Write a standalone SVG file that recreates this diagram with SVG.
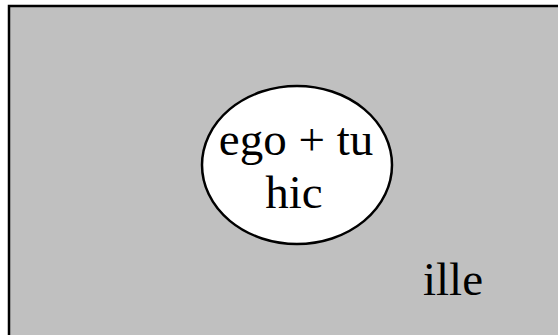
<svg xmlns="http://www.w3.org/2000/svg" width="558" height="335" viewBox="0 0 558 335">
<style>
.lbl{font-family:"Liberation Serif","Times New Roman",serif;font-size:47px;fill:#000;text-anchor:middle}
</style>
<rect width="558" height="335" fill="#fff"/>
<g id="universe">
<rect x="9" y="6" width="570" height="350" fill="#c0c0c0" stroke="#000" stroke-width="2.5"/>
<text class="lbl" x="453" y="295">ille</text>
</g>
<g id="inner">
<ellipse cx="297" cy="165" rx="95" ry="79" fill="#fff" stroke="#000" stroke-width="2.5"/>
<text class="lbl" x="296" y="155">ego + tu</text>
<text class="lbl" x="294" y="208">hic</text>
</g>
<g id="connectors"/>
</svg>
